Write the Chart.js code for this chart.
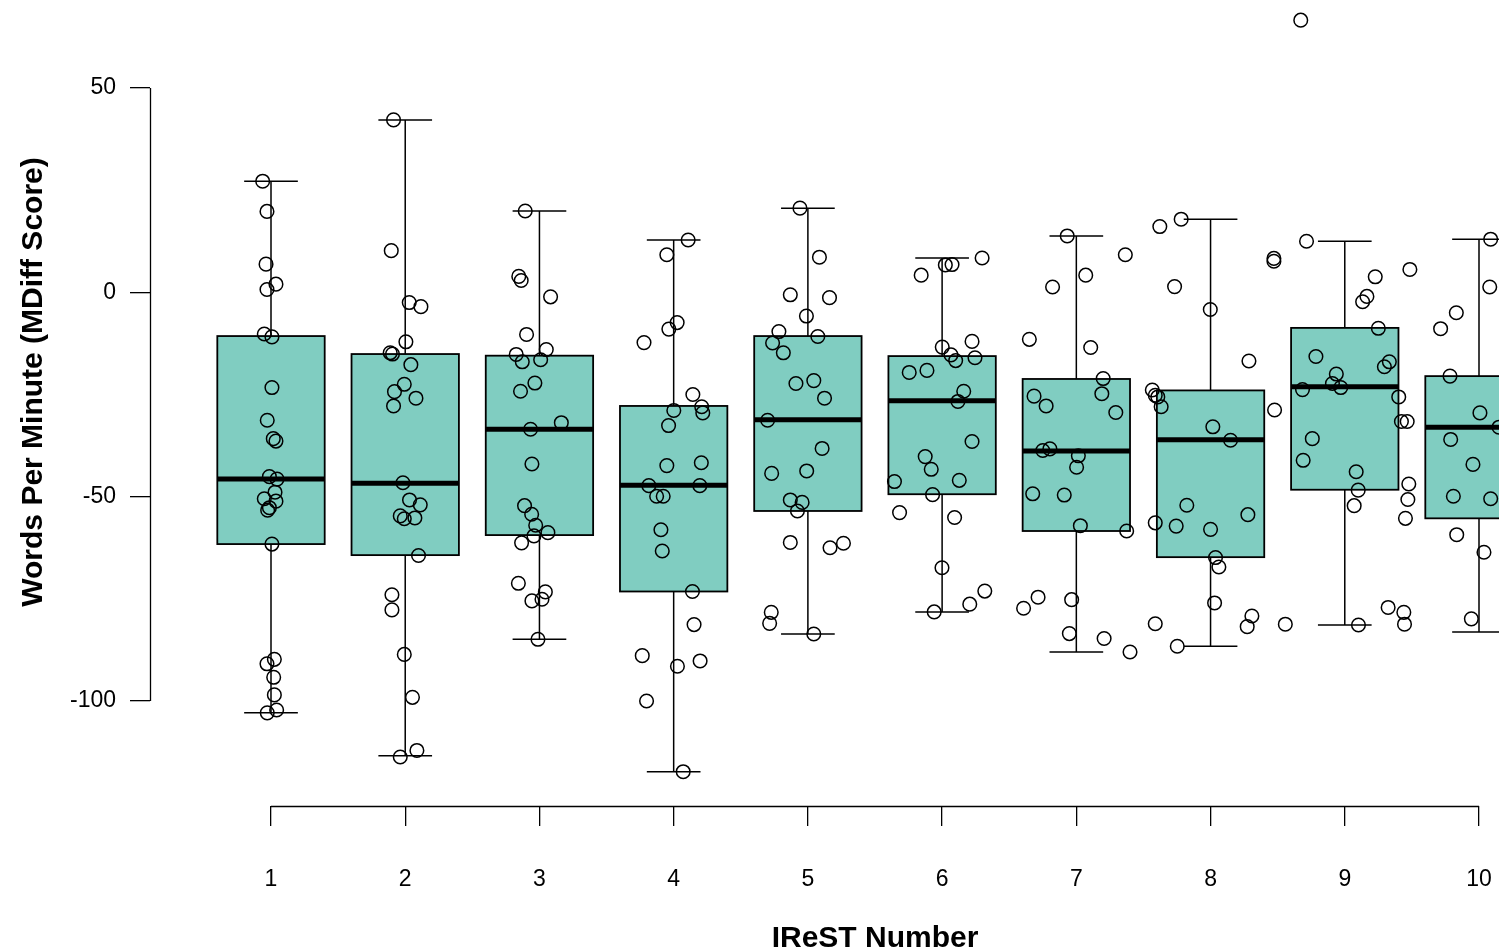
<!DOCTYPE html>
<html>
<head>
<meta charset="utf-8">
<script src="https://cdn.jsdelivr.net/npm/chart.js@4.4.1/dist/chart.umd.min.js"></script>
<style>
  html, body { margin: 0; padding: 0; background: #fff; }
  canvas { display: block; }
</style>
</head>
<body>
<canvas id="wpmChart" width="1499" height="951"></canvas>
<script>
// IReST passage numbers and y ticks
const irestNumbers = [1, 2, 3, 4, 5, 6, 7, 8, 9, 10];
const yTickValues = [-100, -50, 0, 50];

// box summaries (whisker ends, quartiles, median)
const whiskerHigh = [27.2, 42.2, 19.9, 12.8, 20.6, 8.4, 13.8, 17.9, 12.5, 13.0];
const upperQuart  = [-10.7, -15.1, -15.5, -27.8, -10.7, -15.6, -21.2, -24.0, -8.7, -20.5];
const medians     = [-45.7, -46.7, -33.5, -47.2, -31.2, -26.5, -38.8, -36.1, -23.1, -33.0];
const lowerQuart  = [-61.6, -64.3, -59.4, -73.2, -53.5, -49.4, -58.4, -64.8, -48.3, -55.3];
const whiskerLow  = [-102.9, -113.4, -84.9, -117.3, -83.6, -78.2, -88.0, -86.6, -81.4, -83.1];

// individual MDiff scores per passage, with the horizontal jitter used in the plot
const wpm1 = [27.2, 19.8, 6.9, 2.0, 0.7, -10.2, -10.9, -23.3, -31.3, -35.8, -36.4, -45.1, -45.7, -48.9, -50.5, -51.1, -52.7, -53.3, -61.6, -89.8, -90.9, -94.2, -98.5, -102.2, -102.9];
const jit1 = [-0.062, -0.030, -0.037, 0.037, -0.030, -0.050, 0.007, 0.007, -0.028, 0.017, 0.037, -0.012, 0.045, 0.030, -0.050, 0.037, -0.012, -0.025, 0.007, 0.025, -0.030, 0.020, 0.025, 0.042, -0.028];
const wpm2 = [42.2, 10.2, -2.5, -3.5, -12.1, -14.8, -15.1, -17.7, -22.5, -24.3, -25.9, -27.8, -46.6, -50.8, -52.0, -54.7, -55.4, -55.2, -64.4, -74.0, -77.7, -88.6, -99.1, -112.1, -113.7];
const jit2 = [-0.087, -0.104, 0.030, 0.117, 0.005, -0.112, -0.095, 0.042, -0.007, -0.080, 0.080, -0.087, -0.017, 0.032, 0.112, -0.037, -0.007, 0.072, 0.099, -0.099, -0.099, -0.007, 0.054, 0.087, -0.037];
const wpm3 = [19.9, 3.9, 2.9, -1.1, -10.3, -14.0, -15.2, -17.0, -16.5, -22.2, -24.2, -31.9, -33.5, -42.0, -52.2, -54.3, -57.0, -58.8, -59.6, -61.3, -71.2, -73.3, -75.1, -75.5, -84.9];
const jit3 = [-0.106, -0.154, -0.136, 0.083, -0.096, 0.051, -0.173, -0.128, 0.009, -0.034, -0.141, 0.163, -0.066, -0.056, -0.111, -0.058, -0.028, 0.063, -0.041, -0.133, -0.157, 0.044, 0.019, -0.056, -0.011];
const wpm4 = [12.8, 9.2, -7.4, -9.0, -12.3, -25.0, -28.0, -29.5, -28.9, -32.6, -42.4, -41.7, -47.3, -47.3, -49.9, -49.9, -58.1, -63.3, -73.2, -81.3, -88.9, -91.5, -90.2, -100.0, -117.3];
const jit4 = [0.108, -0.051, 0.026, -0.036, -0.221, 0.143, 0.209, 0.217, 0.001, -0.038, -0.051, 0.206, -0.185, 0.195, -0.127, -0.078, -0.095, -0.085, 0.140, 0.152, -0.234, 0.028, 0.197, -0.202, 0.071];
const wpm5 = [20.6, 8.6, -0.6, -1.3, -5.8, -9.6, -10.8, -12.4, -14.8, -21.6, -22.3, -25.9, -31.3, -38.2, -43.7, -44.3, -50.8, -51.4, -53.5, -61.2, -62.5, -61.4, -78.3, -81.0, -83.6];
const jit5 = [-0.059, 0.086, -0.131, 0.161, -0.011, -0.216, 0.074, -0.263, -0.183, 0.044, -0.089, 0.124, -0.300, 0.106, -0.009, -0.270, -0.131, -0.043, -0.078, -0.131, 0.165, 0.265, -0.273, -0.285, 0.044];
const wpm6 = [8.4, 6.7, 6.8, 4.2, -12.0, -13.4, -15.3, -16.7, -16.0, -19.6, -19.1, -24.2, -26.7, -36.5, -40.2, -43.3, -46.3, -46.0, -49.5, -53.9, -55.1, -67.4, -73.1, -76.3, -78.2];
const jit6 = [0.298, 0.024, 0.074, -0.156, 0.223, 0.001, 0.066, 0.101, 0.245, -0.245, -0.113, 0.161, 0.118, 0.223, -0.126, -0.081, -0.355, 0.128, -0.071, -0.317, 0.093, -0.001, 0.318, 0.206, -0.059];
const wpm7 = [13.8, 9.2, 4.2, 1.3, -11.5, -13.5, -21.1, -24.8, -25.4, -27.8, -29.4, -38.7, -38.3, -40.0, -42.8, -49.3, -49.6, -57.1, -58.4, -74.6, -77.3, -75.2, -83.5, -84.7, -88.0];
const jit7 = [-0.068, 0.365, 0.070, -0.177, -0.350, 0.107, 0.200, 0.190, -0.315, -0.225, 0.294, -0.250, -0.197, 0.015, 0.002, -0.325, -0.090, 0.030, 0.375, -0.285, -0.393, -0.035, -0.052, 0.207, 0.400];
const wpm8 = [16.1, 17.9, 8.3, 7.6, 1.4, -4.2, -16.8, -23.9, -25.2, -25.6, -28.0, -28.8, -32.9, -36.2, -52.1, -56.4, -57.2, -54.4, -58.0, -64.9, -67.2, -76.0, -81.1, -79.2, -81.8, -86.6];
const jit8 = [-0.378, -0.219, 0.472, 0.472, -0.268, -0.002, 0.286, -0.434, -0.412, -0.393, -0.368, 0.477, 0.017, 0.149, -0.177, -0.412, -0.256, 0.278, 0.000, 0.037, 0.062, 0.030, -0.412, 0.308, 0.273, -0.248];
const wpm9 = [66.6, 12.5, 5.6, 3.8, -1.0, -2.3, -8.8, -15.7, -17.0, -18.2, -20.0, -22.3, -23.3, -23.8, -25.6, -31.6, -31.6, -35.8, -41.1, -43.9, -46.9, -48.4, -50.7, -52.2, -55.3, -77.1, -78.3, -81.2, -81.4, -81.2];
const jit9 = [-0.328, -0.285, 0.485, 0.227, 0.165, 0.133, 0.250, -0.215, 0.332, 0.295, -0.063, -0.092, -0.030, -0.315, 0.402, 0.422, 0.465, -0.242, -0.310, 0.085, 0.477, 0.100, 0.470, 0.070, 0.452, 0.323, 0.440, 0.445, 0.102, -0.443];
const wpm10 = [13.0, 1.3, -5.0, -8.9, -20.5, -29.5, -33.0, -36.0, -42.1, -49.9, -50.5, -59.3, -63.6, -79.9];
const jit10 = [0.087, 0.080, -0.169, -0.286, -0.216, 0.007, 0.149, -0.211, -0.045, -0.191, 0.087, -0.166, 0.037, -0.057];

const allScores = [wpm1, wpm2, wpm3, wpm4, wpm5, wpm6, wpm7, wpm8, wpm9, wpm10];
const allJitter = [jit1, jit2, jit3, jit4, jit5, jit6, jit7, jit8, jit9, jit10];

const BOX_FILL = '#80cdc1';
const FONT = "'Liberation Sans', Arial, Helvetica, sans-serif";

const points = [];
allScores.forEach((vals, g) => {
    vals.forEach((v, k) => points.push({ x: irestNumbers[g] + allJitter[g][k], y: v }));
});

// boxes go under the points, axis lines and titles on top
const boxPlugin = {
    id: 'rBoxes',
    beforeDatasetsDraw(chart) {
        const { ctx, scales: { x, y } } = chart;
        ctx.save();
        ctx.strokeStyle = '#000';
        irestNumbers.forEach((n, i) => {
            const cx = x.getPixelForValue(n);
            const left = x.getPixelForValue(n - 0.4), right = x.getPixelForValue(n + 0.4);
            const capL = x.getPixelForValue(n - 0.2), capR = x.getPixelForValue(n + 0.2);
            const yHi = y.getPixelForValue(whiskerHigh[i]), yLo = y.getPixelForValue(whiskerLow[i]);
            const yQ3 = y.getPixelForValue(upperQuart[i]), yQ1 = y.getPixelForValue(lowerQuart[i]);
            const yMed = y.getPixelForValue(medians[i]);

            ctx.lineWidth = 1.5;
            ctx.beginPath();
            ctx.moveTo(cx, yHi); ctx.lineTo(cx, yQ3);
            ctx.moveTo(cx, yQ1); ctx.lineTo(cx, yLo);
            ctx.moveTo(capL, yHi); ctx.lineTo(capR, yHi);
            ctx.moveTo(capL, yLo); ctx.lineTo(capR, yLo);
            ctx.stroke();

            ctx.fillStyle = BOX_FILL;
            ctx.fillRect(left, yQ3, right - left, yQ1 - yQ3);
            ctx.lineWidth = 1.8;
            ctx.strokeRect(left, yQ3, right - left, yQ1 - yQ3);

            ctx.lineWidth = 5;
            ctx.beginPath();
            ctx.moveTo(left, yMed); ctx.lineTo(right, yMed);
            ctx.stroke();
        });
        ctx.restore();
    },
    afterDraw(chart) {
        const { ctx, scales: { x, y } } = chart;
        ctx.save();
        ctx.strokeStyle = '#000';
        ctx.lineWidth = 1.3;
        // R draws the axis lines only between the outer ticks
        const ax = Math.round(chart.chartArea.left) + 0.5;
        ctx.beginPath();
        ctx.moveTo(ax, y.getPixelForValue(yTickValues[yTickValues.length - 1]));
        ctx.lineTo(ax, y.getPixelForValue(yTickValues[0]));
        const ay = Math.round(chart.chartArea.bottom) + 0.5;
        ctx.moveTo(x.getPixelForValue(irestNumbers[0]), ay);
        ctx.lineTo(x.getPixelForValue(irestNumbers[irestNumbers.length - 1]), ay);
        ctx.stroke();

        ctx.fillStyle = '#000';
        ctx.font = 'bold 30px ' + FONT;
        ctx.textAlign = 'center';
        ctx.textBaseline = 'alphabetic';
        ctx.fillText('IReST Number', x.getPixelForValue(5.5), 947);

        ctx.translate(42, 382);
        ctx.rotate(-Math.PI / 2);
        ctx.fillText('Words Per Minute (MDiff Score)', 0, 0);
        ctx.restore();
    }
};

new Chart(document.getElementById('wpmChart'), {
    type: 'scatter',
    data: {
        datasets: [{
            data: points,
            pointRadius: 6.8,
            pointBorderWidth: 1.5,
            pointBorderColor: '#000',
            pointBackgroundColor: 'rgba(0,0,0,0)',
            clip: false
        }]
    },
    options: {
        responsive: false,
        animation: false,
        layout: { padding: 0, autoPadding: false },
        plugins: { legend: { display: false }, tooltip: { enabled: false } },
        scales: {
            x: {
                type: 'linear',
                min: 0.0985,
                max: 10.149,
                afterBuildTicks: s => { s.ticks = irestNumbers.map(v => ({ value: v })); },
                afterFit: s => { s.height = 145; s.paddingLeft = 0; s.paddingRight = 0; },
                grid: { drawOnChartArea: false, color: '#000', lineWidth: 1.3, tickLength: 20 },
                border: { display: false },
                ticks: { color: '#000', font: { family: FONT, size: 23 }, padding: 40, autoSkip: false, maxRotation: 0, callback: v => String(v) }
            },
            y: {
                min: -125.69,
                max: 71.533,
                afterBuildTicks: s => { s.ticks = yTickValues.map(v => ({ value: v })); },
                afterFit: s => { s.width = 150; s.paddingTop = 0; s.paddingBottom = 0; },
                grid: { drawOnChartArea: false, color: '#000', lineWidth: 1.3, tickLength: 20 },
                border: { display: false },
                ticks: { color: '#000', font: { family: FONT, size: 23 }, padding: 14, callback: v => String(v) }
            }
        }
    },
    plugins: [boxPlugin]
});
</script>
</body>
</html>
